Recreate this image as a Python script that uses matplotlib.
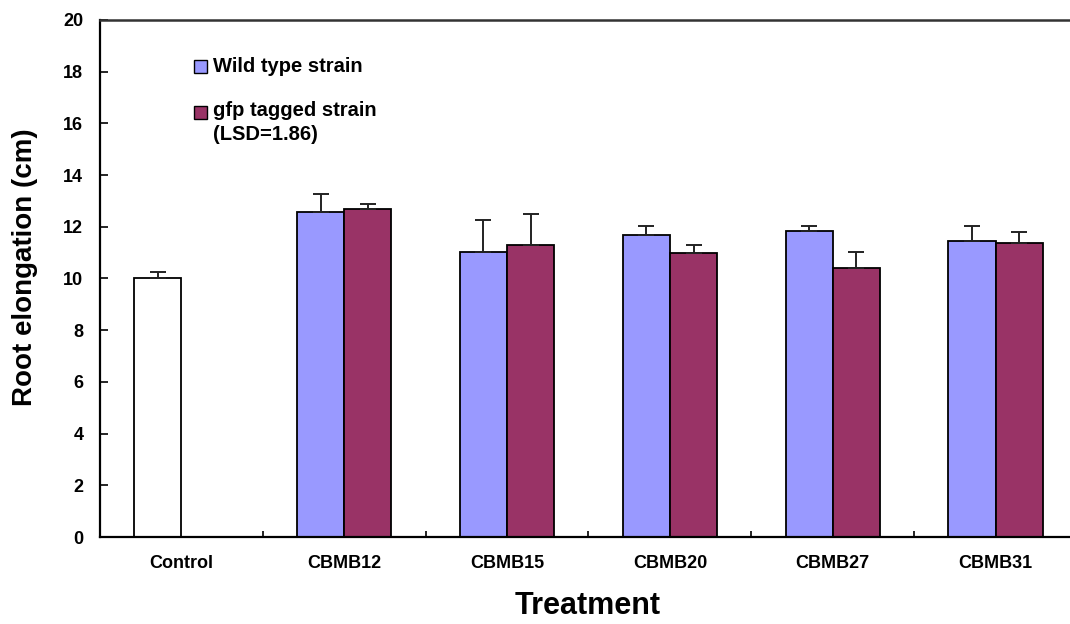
import matplotlib
matplotlib.use("Agg")
import matplotlib.pyplot as plt
from matplotlib.patches import Rectangle
import numpy as np

# ---- data ----
categories = ["Control", "CBMB12", "CBMB15", "CBMB20", "CBMB27", "CBMB31"]
control_value = 10.0
control_err = 0.27
strain_categories = ["CBMB12", "CBMB15", "CBMB20", "CBMB27", "CBMB31"]
wild_type = [12.58, 11.01, 11.67, 11.85, 11.45]
wild_err = [0.69, 1.24, 0.36, 0.19, 0.59]
gfp_tagged = [12.69, 11.28, 11.0, 10.39, 11.36]
gfp_err = [0.18, 1.20, 0.28, 0.63, 0.45]
yticks = [0, 2, 4, 6, 8, 10, 12, 14, 16, 18, 20]

plt.rcParams['font.family'] = ['Liberation Sans', 'DejaVu Sans']
plt.rcParams['font.weight'] = 'bold'

W, H = 1070, 624
fig = plt.figure(figsize=(W / 100, H / 100), dpi=100)
ax = fig.add_axes([100 / W, (H - 537) / H, 977 / W, (537 - 20) / H])

blue = "#9999FF"
red = "#993366"
bw = 0.29
off = 0.145
ekw = dict(ecolor="#222222", elinewidth=1.4, capsize=6, capthick=1.4)

x = np.arange(len(categories))
xs = np.array([categories.index(c) for c in strain_categories])

ax.bar([x[0] - off], [control_value], width=bw, color="white", edgecolor="black",
       linewidth=1.3, yerr=[[0], [control_err]], error_kw=ekw, zorder=2)
ax.bar(xs - off, wild_type, width=bw, color=blue, edgecolor="black", linewidth=1.3,
       yerr=[np.zeros(len(wild_err)), wild_err], error_kw=ekw, zorder=2)
ax.bar(xs + off, gfp_tagged, width=bw, color=red, edgecolor="black", linewidth=1.3,
       yerr=[np.zeros(len(gfp_err)), gfp_err], error_kw=ekw, zorder=2)

ax.set_xlim(-0.5, len(categories) - 0.5)
ax.set_ylim(0, 20)
ax.set_yticks(yticks)
ax.set_yticklabels([str(v) for v in yticks], fontsize=13, fontweight='bold')
ax.tick_params(axis='y', direction='in', length=6, width=1.2, pad=12)

ax.set_xticks(x)
ax.set_xticklabels(categories, fontsize=13, fontweight='bold')
ax.tick_params(axis='x', which='major', length=0, pad=13)
ax.set_xticks(np.arange(len(categories) + 1) - 0.5, minor=True)
ax.tick_params(axis='x', which='minor', direction='in', length=4, width=1.2)

for s in ['left', 'bottom']:
    ax.spines[s].set_linewidth(1.6)
    ax.spines[s].set_color('black')
ax.spines['top'].set_linewidth(1.8)
ax.spines['top'].set_color('#333333')
ax.spines['right'].set_visible(False)

fig.text(25 / W, 1 - 267 / H, "Root elongation (cm)", rotation=90, fontsize=20,
         fontweight='bold', ha='center', va='center')
fig.text(588 / W, 1 - 606 / H, "Treatment", fontsize=22, fontweight='bold',
         ha='center', va='center')

# legend
def square(x0, y0, color):
    fig.patches.append(Rectangle((x0 / W, 1 - (y0 + 13) / H), 13 / W, 13 / H,
                                 transform=fig.transFigure, facecolor=color,
                                 edgecolor='black', linewidth=1.0))

square(194, 60, blue)
fig.text(213 / W, 1 - 66 / H, "Wild type strain", fontsize=14.5, fontweight='bold',
         ha='left', va='center')
square(194, 106, red)
fig.text(213 / W, 1 - 111 / H, "gfp tagged strain", fontsize=14.5, fontweight='bold',
         ha='left', va='center')
fig.text(213 / W, 1 - 135 / H, "(LSD=1.86)", fontsize=14.5, fontweight='bold',
         ha='left', va='center')

fig.savefig("out.png", dpi=100)
